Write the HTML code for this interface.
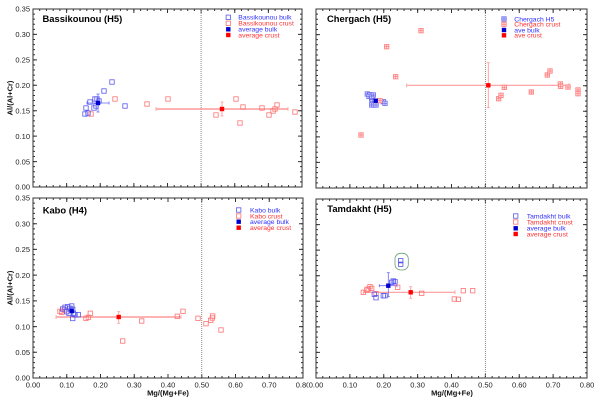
<!DOCTYPE html>
<html><head><meta charset="utf-8"><style>
html,body{margin:0;padding:0;background:#fff;}
svg{display:block;font-family:"Liberation Sans",Arial,sans-serif;}
</style></head><body>
<svg width="600" height="402" viewBox="0 0 600 402" xmlns="http://www.w3.org/2000/svg" xmlns:xlink="http://www.w3.org/1999/xlink">
<defs>
<g id="ob"><rect x="-2.2" y="-2.2" width="4.4" height="4.4" fill="none" stroke="#5858f0" stroke-width="0.8"/></g>
<g id="or"><rect x="-2.2" y="-2.2" width="4.4" height="4.4" fill="none" stroke="#ff7272" stroke-width="0.8"/></g>
<g id="pb"><rect x="-2.2" y="-2.2" width="4.4" height="4.4" fill="#d8d8ff" stroke="#6a6aee" stroke-width="0.8"/><path d="M-2.2 0H2.2M0 -2.2V2.2" stroke="#6a6aee" stroke-width="0.7"/></g>
<g id="pr"><rect x="-2.2" y="-2.2" width="4.4" height="4.4" fill="#ffdede" stroke="#ff7a7a" stroke-width="0.8"/><path d="M-2.2 0H2.2M0 -2.2V2.2" stroke="#ff7a7a" stroke-width="0.7"/></g>
<g id="fb"><rect x="-2.2" y="-2.2" width="4.4" height="4.4" fill="#0000cc"/></g>
<g id="fr"><rect x="-2.2" y="-2.2" width="4.4" height="4.4" fill="#ff0000"/></g>
</defs>

<!-- ===== Frames & ticks ===== -->
<g stroke="#333" fill="none">
<!-- P1 -->
<rect x="33" y="9" width="269" height="178" stroke-width="1"/>
<line x1="33" y1="186" x2="302" y2="186" stroke-width="2" stroke-dasharray="1 5.725" stroke-dashoffset="0.5"/>
<line x1="33" y1="185" x2="302" y2="185" stroke-width="4" stroke-dasharray="1 32.625" stroke-dashoffset="0.5"/>
<line x1="33" y1="10" x2="302" y2="10" stroke-width="2" stroke-dasharray="1 5.725" stroke-dashoffset="0.5"/>
<line x1="33" y1="11" x2="302" y2="11" stroke-width="4" stroke-dasharray="1 32.625" stroke-dashoffset="0.5"/>
<line x1="34" y1="187" x2="34" y2="9" stroke-width="2" stroke-dasharray="1 4.0857" stroke-dashoffset="0.5"/>
<line x1="35" y1="187" x2="35" y2="9" stroke-width="4" stroke-dasharray="1 24.4286" stroke-dashoffset="0.5"/>
<line x1="301" y1="187" x2="301" y2="9" stroke-width="2" stroke-dasharray="1 4.0857" stroke-dashoffset="0.5"/>
<line x1="300" y1="187" x2="300" y2="9" stroke-width="4" stroke-dasharray="1 24.4286" stroke-dashoffset="0.5"/>
<!-- P2 -->
<rect x="316" y="9" width="271" height="179" stroke-width="1"/>
<line x1="316" y1="187" x2="587" y2="187" stroke-width="2" stroke-dasharray="1 5.775" stroke-dashoffset="0.5"/>
<line x1="316" y1="186" x2="587" y2="186" stroke-width="4" stroke-dasharray="1 32.875" stroke-dashoffset="0.5"/>
<line x1="316" y1="10" x2="587" y2="10" stroke-width="2" stroke-dasharray="1 5.775" stroke-dashoffset="0.5"/>
<line x1="316" y1="11" x2="587" y2="11" stroke-width="4" stroke-dasharray="1 32.875" stroke-dashoffset="0.5"/>
<line x1="317" y1="188" x2="317" y2="9" stroke-width="2" stroke-dasharray="1 4.1143" stroke-dashoffset="0.5"/>
<line x1="318" y1="188" x2="318" y2="9" stroke-width="4" stroke-dasharray="1 24.5714" stroke-dashoffset="0.5"/>
<line x1="586" y1="188" x2="586" y2="9" stroke-width="2" stroke-dasharray="1 4.1143" stroke-dashoffset="0.5"/>
<line x1="585" y1="188" x2="585" y2="9" stroke-width="4" stroke-dasharray="1 24.5714" stroke-dashoffset="0.5"/>
<!-- P3 -->
<rect x="33" y="198" width="270" height="180" stroke-width="1"/>
<line x1="33" y1="377" x2="303" y2="377" stroke-width="2" stroke-dasharray="1 5.75" stroke-dashoffset="0.5"/>
<line x1="33" y1="376" x2="303" y2="376" stroke-width="4" stroke-dasharray="1 32.75" stroke-dashoffset="0.5"/>
<line x1="33" y1="199" x2="303" y2="199" stroke-width="2" stroke-dasharray="1 5.75" stroke-dashoffset="0.5"/>
<line x1="33" y1="200" x2="303" y2="200" stroke-width="4" stroke-dasharray="1 32.75" stroke-dashoffset="0.5"/>
<line x1="34" y1="378" x2="34" y2="198" stroke-width="2" stroke-dasharray="1 4.1429" stroke-dashoffset="0.5"/>
<line x1="35" y1="378" x2="35" y2="198" stroke-width="4" stroke-dasharray="1 24.7143" stroke-dashoffset="0.5"/>
<line x1="302" y1="378" x2="302" y2="198" stroke-width="2" stroke-dasharray="1 4.1429" stroke-dashoffset="0.5"/>
<line x1="301" y1="378" x2="301" y2="198" stroke-width="4" stroke-dasharray="1 24.7143" stroke-dashoffset="0.5"/>
<!-- P4 -->
<rect x="316" y="199" width="271" height="179" stroke-width="1"/>
<line x1="316" y1="377" x2="587" y2="377" stroke-width="2" stroke-dasharray="1 5.775" stroke-dashoffset="0.5"/>
<line x1="316" y1="376" x2="587" y2="376" stroke-width="4" stroke-dasharray="1 32.875" stroke-dashoffset="0.5"/>
<line x1="316" y1="200" x2="587" y2="200" stroke-width="2" stroke-dasharray="1 5.775" stroke-dashoffset="0.5"/>
<line x1="316" y1="201" x2="587" y2="201" stroke-width="4" stroke-dasharray="1 32.875" stroke-dashoffset="0.5"/>
<line x1="317" y1="378" x2="317" y2="199" stroke-width="2" stroke-dasharray="1 4.1143" stroke-dashoffset="0.5"/>
<line x1="318" y1="378" x2="318" y2="199" stroke-width="4" stroke-dasharray="1 24.5714" stroke-dashoffset="0.5"/>
<line x1="586" y1="378" x2="586" y2="199" stroke-width="2" stroke-dasharray="1 4.1143" stroke-dashoffset="0.5"/>
<line x1="585" y1="378" x2="585" y2="199" stroke-width="4" stroke-dasharray="1 24.5714" stroke-dashoffset="0.5"/>
</g>

<!-- dotted 0.5 lines -->
<g stroke="#888" stroke-width="1" stroke-dasharray="1 1">
<line x1="201.1" y1="9" x2="201.1" y2="187"/>
<line x1="485.4" y1="9" x2="485.4" y2="188"/>
<line x1="201.7" y1="198" x2="201.7" y2="378"/>
<line x1="485.4" y1="199" x2="485.4" y2="378"/>
</g>

<!-- Tick labels -->
<g font-size="7.5" fill="#222" text-anchor="end">
<text x="30" y="189.7">0.00</text>
<text x="30" y="164.3">0.05</text>
<text x="30" y="138.8">0.10</text>
<text x="30" y="113.4">0.15</text>
<text x="30" y="88">0.20</text>
<text x="30" y="62.6">0.25</text>
<text x="30" y="37.1">0.30</text>
<text x="30" y="11.7">0.35</text>
<text x="30" y="380.7">0.00</text>
<text x="30" y="355">0.05</text>
<text x="30" y="329.3">0.10</text>
<text x="30" y="303.6">0.15</text>
<text x="30" y="277.8">0.20</text>
<text x="30" y="252.1">0.25</text>
<text x="30" y="226.4">0.30</text>
<text x="30" y="200.7">0.35</text>
</g>
<g font-size="7.5" fill="#222" text-anchor="middle">
<text x="33" y="387.5">0.00</text>
<text x="66.75" y="387.5">0.10</text>
<text x="100.5" y="387.5">0.20</text>
<text x="134.25" y="387.5">0.30</text>
<text x="168" y="387.5">0.40</text>
<text x="201.75" y="387.5">0.50</text>
<text x="235.5" y="387.5">0.60</text>
<text x="269.25" y="387.5">0.70</text>
<text x="303" y="387.5">0.80</text>
<rect x="308.5" y="380" width="15" height="9" fill="#fff"/>
<text x="316" y="387.5">0.00</text>
<text x="349.9" y="387.5">0.10</text>
<text x="383.75" y="387.5">0.20</text>
<text x="417.6" y="387.5">0.30</text>
<text x="451.5" y="387.5">0.40</text>
<text x="485.4" y="387.5">0.50</text>
<text x="519.25" y="387.5">0.60</text>
<text x="553.1" y="387.5">0.70</text>
<text x="587" y="387.5">0.80</text>
</g>

<!-- Axis titles -->
<g font-size="7.5" font-weight="bold" fill="#111" text-anchor="middle">
<text transform="translate(12.5,98) rotate(-90)">Al/(Al+Cr)</text>
<text transform="translate(12.5,288) rotate(-90)">Al/(Al+Cr)</text>
<text x="168" y="395.5">Mg/(Mg+Fe)</text>
<text x="452" y="395.5">Mg/(Mg+Fe)</text>
</g>

<!-- Panel titles -->
<g font-size="9.4" font-weight="bold" fill="#000">
<text x="42.5" y="22">Bassikounou (H5)</text>
<text x="327" y="22">Chergach (H5)</text>
<text x="42.7" y="213.5">Kabo (H4)</text>
<text x="327.3" y="212">Tamdakht (H5)</text>
</g>

<!-- Legends -->
<g font-size="6.8">
<use href="#ob" xlink:href="#ob" x="228.3" y="17.3"/><text x="238.3" y="19.7" fill="#3030ff">Bassikounou bulk</text>
<use href="#or" xlink:href="#or" x="228.3" y="23.3"/><text x="238.3" y="25.7" fill="#ff3030">Bassikounou crust</text>
<use href="#fb" xlink:href="#fb" x="228.3" y="29.3"/><text x="238.3" y="31.7" fill="#3030ff">average bulk</text>
<use href="#fr" xlink:href="#fr" x="228.3" y="35"/><text x="238.3" y="37.4" fill="#ff3030">average crust</text>

<use href="#pb" xlink:href="#pb" x="504" y="19"/><text x="514.3" y="21.4" fill="#3030ff">Chergach H5</text>
<use href="#pr" xlink:href="#pr" x="504" y="24.3"/><text x="514.3" y="26.7" fill="#ff3030">Chergach crust</text>
<use href="#fb" xlink:href="#fb" x="504" y="30"/><text x="514.3" y="32.4" fill="#3030ff">ave bulk</text>
<use href="#fr" xlink:href="#fr" x="504" y="35.3"/><text x="514.3" y="37.7" fill="#ff3030">ave crust</text>

<use href="#ob" xlink:href="#ob" x="238.7" y="210"/><text x="250" y="212.4" fill="#3030ff">Kabo bulk</text>
<use href="#or" xlink:href="#or" x="238.7" y="216"/><text x="250" y="218.4" fill="#ff3030">Kabo crust</text>
<use href="#fb" xlink:href="#fb" x="238.7" y="221.7"/><text x="250" y="224.1" fill="#3030ff">average bulk</text>
<use href="#fr" xlink:href="#fr" x="238.7" y="227.7"/><text x="250" y="230.1" fill="#ff3030">average crust</text>

<use href="#ob" xlink:href="#ob" x="515.7" y="216"/><text x="526.7" y="218.4" fill="#3030ff">Tamdakht bulk</text>
<use href="#or" xlink:href="#or" x="515.7" y="222"/><text x="526.7" y="224.4" fill="#ff3030">Tamdakht crust</text>
<use href="#fb" xlink:href="#fb" x="515.7" y="228.3"/><text x="526.7" y="230.7" fill="#3030ff">average bulk</text>
<use href="#fr" xlink:href="#fr" x="515.7" y="234"/><text x="526.7" y="236.4" fill="#ff3030">average crust</text>
</g>

<!-- ===== Panel 1 data ===== -->
<g stroke="#ff9a9a" fill="none">
<line x1="156" y1="109" x2="288" y2="109" stroke-width="1.6"/>
<line x1="156" y1="107" x2="156" y2="111" stroke-width="0.8"/>
<line x1="288" y1="107" x2="288" y2="111" stroke-width="0.8"/>
<line x1="222" y1="102" x2="222" y2="116" stroke-width="0.9"/>
<line x1="220.5" y1="102" x2="223.5" y2="102" stroke-width="0.8"/>
<line x1="220.5" y1="116" x2="223.5" y2="116" stroke-width="0.8"/>
</g>
<g stroke="#6a6aff" fill="none" stroke-width="0.8">
<line x1="87" y1="103" x2="109" y2="103"/>
<line x1="98" y1="94" x2="98" y2="112"/>
<line x1="87" y1="101.5" x2="87" y2="104.5"/><line x1="109" y1="101.5" x2="109" y2="104.5"/>
<line x1="96.5" y1="94" x2="99.5" y2="94"/><line x1="96.5" y1="112" x2="99.5" y2="112"/>
</g>
<g>
<use href="#or" xlink:href="#or" x="91" y="114"/>
<use href="#or" xlink:href="#or" x="115" y="99"/>
<use href="#or" xlink:href="#or" x="147" y="104"/>
<use href="#or" xlink:href="#or" x="168" y="99"/>
<use href="#or" xlink:href="#or" x="216" y="115"/>
<use href="#or" xlink:href="#or" x="236" y="99"/>
<use href="#or" xlink:href="#or" x="240" y="123"/>
<use href="#or" xlink:href="#or" x="243" y="107"/>
<use href="#or" xlink:href="#or" x="262" y="108"/>
<use href="#or" xlink:href="#or" x="269" y="115"/>
<use href="#or" xlink:href="#or" x="273" y="111"/>
<use href="#or" xlink:href="#or" x="275" y="109"/>
<use href="#or" xlink:href="#or" x="277" y="105"/>
<use href="#or" xlink:href="#or" x="295" y="112"/>
<use href="#ob" xlink:href="#ob" x="85" y="114"/>
<use href="#ob" xlink:href="#ob" x="86" y="108"/>
<use href="#ob" xlink:href="#ob" x="88" y="113"/>
<use href="#ob" xlink:href="#ob" x="90" y="102"/>
<use href="#ob" xlink:href="#ob" x="94" y="108"/>
<use href="#ob" xlink:href="#ob" x="95" y="99"/>
<use href="#ob" xlink:href="#ob" x="96" y="106"/>
<use href="#ob" xlink:href="#ob" x="97" y="99"/>
<use href="#ob" xlink:href="#ob" x="99" y="101"/>
<use href="#ob" xlink:href="#ob" x="104" y="91"/>
<use href="#ob" xlink:href="#ob" x="112" y="82"/>
<use href="#ob" xlink:href="#ob" x="125" y="106"/>
<use href="#fb" xlink:href="#fb" x="98" y="103"/>
<use href="#fr" xlink:href="#fr" x="222" y="109"/>
</g>

<!-- ===== Panel 2 data ===== -->
<g stroke="#ff9a9a" fill="none">
<line x1="406.7" y1="85.3" x2="569" y2="85.3" stroke-width="1.2"/>
<line x1="406.7" y1="83.3" x2="406.7" y2="87.3" stroke-width="0.8"/>
<line x1="569" y1="83.3" x2="569" y2="87.3" stroke-width="0.8"/>
<line x1="488.3" y1="62.7" x2="488.3" y2="107.7" stroke-width="0.9"/>
<line x1="486.8" y1="62.7" x2="489.8" y2="62.7" stroke-width="0.8"/>
<line x1="486.8" y1="107.7" x2="489.8" y2="107.7" stroke-width="0.8"/>
</g>
<g>
<use href="#pr" xlink:href="#pr" x="361" y="135"/>
<use href="#pr" xlink:href="#pr" x="386.7" y="46.7"/>
<use href="#pr" xlink:href="#pr" x="395.7" y="76.7"/>
<use href="#pr" xlink:href="#pr" x="421" y="30.7"/>
<use href="#pr" xlink:href="#pr" x="498.7" y="98.7"/>
<use href="#pr" xlink:href="#pr" x="501" y="95.3"/>
<use href="#pr" xlink:href="#pr" x="504.3" y="87.3"/>
<use href="#pr" xlink:href="#pr" x="531.3" y="92"/>
<use href="#pr" xlink:href="#pr" x="547.3" y="75"/>
<use href="#pr" xlink:href="#pr" x="550" y="71"/>
<use href="#pr" xlink:href="#pr" x="560.3" y="84"/>
<use href="#pr" xlink:href="#pr" x="560.7" y="86.3"/>
<use href="#pr" xlink:href="#pr" x="568" y="87"/>
<use href="#pr" xlink:href="#pr" x="578" y="90"/>
<use href="#pr" xlink:href="#pr" x="578" y="93.7"/>
<use href="#pb" xlink:href="#pb" x="367.3" y="94"/>
<use href="#pb" xlink:href="#pb" x="370" y="94.7"/>
<use href="#pb" xlink:href="#pb" x="373.3" y="95"/>
<use href="#pb" xlink:href="#pb" x="369" y="96.5"/>
<use href="#pb" xlink:href="#pb" x="371.7" y="98.3"/>
<use href="#pb" xlink:href="#pb" x="372" y="100.5"/>
<use href="#pb" xlink:href="#pb" x="372.3" y="101.7"/>
<use href="#pb" xlink:href="#pb" x="371.7" y="105"/>
<use href="#pb" xlink:href="#pb" x="374" y="105"/>
<use href="#pb" xlink:href="#pb" x="376" y="105"/>
<use href="#pb" xlink:href="#pb" x="383.3" y="101.7"/>
<use href="#pb" xlink:href="#pb" x="385" y="103.3"/>
<use href="#pr" xlink:href="#pr" x="380" y="100.7"/>
<use href="#fb" xlink:href="#fb" x="375.7" y="100.7"/>
<use href="#fr" xlink:href="#fr" x="488.3" y="85.3"/>
</g>

<!-- ===== Panel 3 data ===== -->
<g stroke="#ff9a9a" fill="none">
<line x1="56" y1="317" x2="181" y2="317" stroke-width="1.6"/>
<line x1="56" y1="315" x2="56" y2="319" stroke-width="0.8"/>
<line x1="181" y1="315" x2="181" y2="319" stroke-width="0.8"/>
<line x1="118.7" y1="311.7" x2="118.7" y2="323.3" stroke-width="0.9"/>
<line x1="117.2" y1="311.7" x2="120.2" y2="311.7" stroke-width="0.8"/>
<line x1="117.2" y1="323.3" x2="120.2" y2="323.3" stroke-width="0.8"/>
</g>
<g stroke="#6a6aff" fill="none" stroke-width="0.8">
<line x1="68" y1="311" x2="75.5" y2="311"/>
<line x1="71.7" y1="307" x2="71.7" y2="315"/>
</g>
<g>
<use href="#or" xlink:href="#or" x="60" y="311.3"/>
<use href="#or" xlink:href="#or" x="61.7" y="312.3"/>
<use href="#or" xlink:href="#or" x="64.3" y="310"/>
<use href="#or" xlink:href="#or" x="86" y="318.3"/>
<use href="#or" xlink:href="#or" x="88.3" y="317.3"/>
<use href="#or" xlink:href="#or" x="90.3" y="313.3"/>
<use href="#or" xlink:href="#or" x="141.7" y="321"/>
<use href="#or" xlink:href="#or" x="122.7" y="341"/>
<use href="#or" xlink:href="#or" x="177.3" y="316.3"/>
<use href="#or" xlink:href="#or" x="183" y="311.3"/>
<use href="#or" xlink:href="#or" x="198" y="318.3"/>
<use href="#or" xlink:href="#or" x="206" y="323.7"/>
<use href="#or" xlink:href="#or" x="210.7" y="320.3"/>
<use href="#or" xlink:href="#or" x="212.3" y="318"/>
<use href="#or" xlink:href="#or" x="212.7" y="316"/>
<use href="#or" xlink:href="#or" x="221" y="330"/>
<use href="#ob" xlink:href="#ob" x="62.7" y="309"/>
<use href="#ob" xlink:href="#ob" x="65" y="307.3"/>
<use href="#ob" xlink:href="#ob" x="67.7" y="306.7"/>
<use href="#ob" xlink:href="#ob" x="70" y="308.3"/>
<use href="#ob" xlink:href="#ob" x="72.7" y="309.3"/>
<use href="#ob" xlink:href="#ob" x="73.3" y="313.3"/>
<use href="#ob" xlink:href="#ob" x="75" y="314.7"/>
<use href="#ob" xlink:href="#ob" x="78.3" y="314.7"/>
<use href="#ob" xlink:href="#ob" x="69" y="313.3"/>
<use href="#ob" xlink:href="#ob" x="71.7" y="306"/>
<use href="#ob" xlink:href="#ob" x="66.7" y="311.7"/>
<use href="#ob" xlink:href="#ob" x="72.7" y="318.5"/>
<use href="#fb" xlink:href="#fb" x="71.7" y="311"/>
<use href="#fr" xlink:href="#fr" x="118.7" y="317"/>
</g>

<!-- ===== Panel 4 data ===== -->
<rect x="395" y="253.3" width="13.3" height="16.7" rx="5.5" ry="5.5" fill="none" stroke="#6a9f78" stroke-width="0.8"/>
<g stroke="#ff9a9a" fill="none">
<line x1="363.3" y1="292.3" x2="455" y2="292.3" stroke-width="1.2"/>
<line x1="363.3" y1="290.3" x2="363.3" y2="294.3" stroke-width="0.8"/>
<line x1="455" y1="290.3" x2="455" y2="294.3" stroke-width="0.8"/>
<line x1="410.7" y1="286.7" x2="410.7" y2="298.3" stroke-width="0.9"/>
<line x1="409.2" y1="286.7" x2="412.2" y2="286.7" stroke-width="0.8"/>
<line x1="409.2" y1="298.3" x2="412.2" y2="298.3" stroke-width="0.8"/>
</g>
<g stroke="#6a6aff" fill="none" stroke-width="0.8">
<line x1="379.3" y1="285.7" x2="397" y2="285.7"/>
<line x1="388.3" y1="272.7" x2="388.3" y2="296.7"/>
<line x1="379.3" y1="284.2" x2="379.3" y2="287.2"/><line x1="397" y1="284.2" x2="397" y2="287.2"/>
<line x1="386.8" y1="272.7" x2="389.8" y2="272.7"/><line x1="386.8" y1="296.7" x2="389.8" y2="296.7"/>
</g>
<g>
<use href="#or" xlink:href="#or" x="363.3" y="292.3"/>
<use href="#or" xlink:href="#or" x="366.7" y="290"/>
<use href="#or" xlink:href="#or" x="368.3" y="289"/>
<use href="#or" xlink:href="#or" x="370" y="286.7"/>
<use href="#or" xlink:href="#or" x="371.7" y="288.3"/>
<use href="#or" xlink:href="#or" x="376" y="293.7"/>
<use href="#or" xlink:href="#or" x="397.7" y="287.3"/>
<use href="#or" xlink:href="#or" x="421.7" y="293.3"/>
<use href="#or" xlink:href="#or" x="454.3" y="299"/>
<use href="#or" xlink:href="#or" x="458.3" y="299.3"/>
<use href="#or" xlink:href="#or" x="463.3" y="290.7"/>
<use href="#or" xlink:href="#or" x="472.7" y="290.7"/>
<use href="#ob" xlink:href="#ob" x="374.3" y="294.3"/>
<use href="#ob" xlink:href="#ob" x="376" y="297.7"/>
<use href="#ob" xlink:href="#ob" x="383.3" y="295.7"/>
<use href="#ob" xlink:href="#ob" x="385" y="295.7"/>
<use href="#ob" xlink:href="#ob" x="393.3" y="281"/>
<use href="#ob" xlink:href="#ob" x="391.7" y="282.3"/>
<use href="#ob" xlink:href="#ob" x="395" y="281.7"/>
<use href="#ob" xlink:href="#ob" x="400.7" y="260.7"/>
<use href="#ob" xlink:href="#ob" x="400.7" y="264.3"/>
<use href="#fb" xlink:href="#fb" x="388.3" y="285.7"/>
<use href="#fr" xlink:href="#fr" x="410.7" y="292.3"/>
</g>
</svg>
</body></html>
